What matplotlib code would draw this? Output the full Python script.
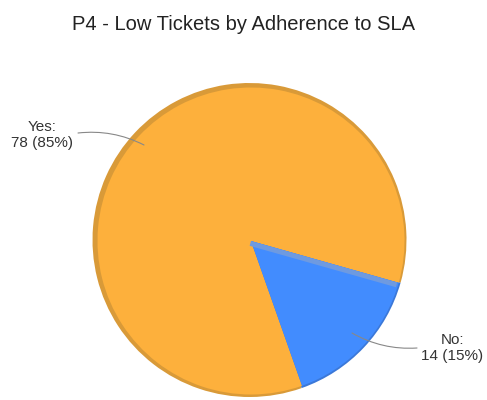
import numpy as np
import matplotlib
matplotlib.use("Agg")
import matplotlib.pyplot as plt

title = "P4 - Low Tickets by Adherence to SLA"
categories = ["Yes", "No"]
values = [78, 14]
colors = ["#FDB03C", "#428CFE"]
rim_colors = ["#D99A38", "#3B78D8"]

plt.rcParams['font.family'] = ['Liberation Sans', 'DejaVu Sans']

W, H = 487, 400
fig = plt.figure(figsize=(W / 100, H / 100), dpi=100)
ax = fig.add_axes([0, 0, 1, 1])

cx, cy = 249.5, 400 - 240
R = 157
start = -15.8

# rim (3D edge)
ax.pie(values, colors=rim_colors, startangle=start, radius=R, center=(cx, cy),
       wedgeprops=dict(linewidth=0))
# main face
wedges, _ = ax.pie(values, colors=colors, startangle=start, radius=R - 3.5,
                   center=(cx + 1.5, cy - 1.0), wedgeprops=dict(linewidth=0))

# lighter band along the upper edge of the "No" slice
total = sum(values)
ang = np.deg2rad(start)
perp = np.array([np.sin(ang), -np.cos(ang)])
p0 = np.array([cx + 1.5, cy - 1.0]) + perp * 2.5
p1 = p0 + np.array([np.cos(ang), np.sin(ang)]) * (R - 5)
ax.plot([p0[0], p1[0]], [p0[1], p1[1]], color="#6E9AE0", lw=3.6,
        solid_capstyle="butt", zorder=3)

# labels
labels = [f"{c}:\n{v} ({round(100 * v / total)}%)" for c, v in zip(categories, values)]
ax.text(42, 400 - 135, labels[0], ha="center", va="center", fontsize=11,
        color="#333333", linespacing=1.2)
ax.text(452, 400 - 348, labels[1], ha="center", va="center", fontsize=11,
        color="#333333", linespacing=1.2)

ax.annotate("", xy=(144, 400 - 145), xytext=(78, 400 - 133),
            arrowprops=dict(arrowstyle="-", color="#888888", lw=0.8,
                            connectionstyle="arc3,rad=-0.15",
                            shrinkA=0, shrinkB=0))
ax.annotate("", xy=(352, 400 - 333), xytext=(417, 400 - 348),
            arrowprops=dict(arrowstyle="-", color="#888888", lw=0.8,
                            connectionstyle="arc3,rad=-0.15",
                            shrinkA=0, shrinkB=0))

fig.text(0.5, 1 - 24 / 400, title, ha="center", va="center", fontsize=14.5,
         color="#222222")

ax.set_xlim(0, W)
ax.set_ylim(0, H)
ax.set_aspect("equal")
ax.axis("off")
fig.savefig("out.png", dpi=100, facecolor="white")
